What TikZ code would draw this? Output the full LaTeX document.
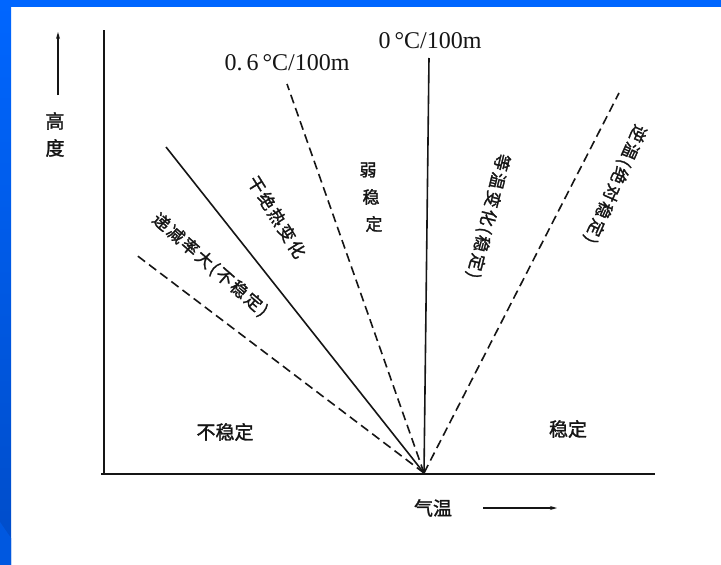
\documentclass[tikz,border=0pt]{standalone}
\usepackage{fontspec}
\setmainfont{Liberation Serif}
\newfontfamily\cjk[FakeBold=1.5]{Noto Sans CJK SC}
\newfontfamily\cjks[FakeBold=1.5,LetterSpace=12]{Noto Sans CJK SC}
\usetikzlibrary{arrows.meta}
\definecolor{frameblue}{HTML}{0066FF}
\definecolor{framedark}{HTML}{004CC8}
\definecolor{framemid}{HTML}{0058E0}
\definecolor{ink}{HTML}{151515}
\tikzset{
  axisline/.style={draw=ink, line width=1.8pt},
  fanline/.style={draw=ink, line width=1.6pt},
  fandash/.style={draw=ink, line width=1.6pt, dash pattern=on 9pt off 5pt},
  cn/.style={font=\cjk\fontsize{19}{19}\selectfont, text=ink, inner sep=0pt},
  cnrot/.style={font=\cjks\fontsize{17}{17}\selectfont, text=ink, inner sep=0pt},
  cnv/.style={font=\cjk\fontsize{17}{17}\selectfont, text=ink, inner sep=0pt},
  num/.style={font=\fontsize{24}{24}\selectfont, text=ink, inner sep=0pt},
  arr/.style={draw=ink, line width=1.4pt, -{Stealth[length=7pt,width=4pt]}}
}
\begin{document}
\begin{tikzpicture}[x=1pt,y=-1pt]
\useasboundingbox (0,0) rectangle (721,565);
% frame
\fill[white] (0,0) rectangle (721,565);
\fill[frameblue] (0,0) rectangle (721,7);
\shade[top color=frameblue, bottom color=framedark] (0,0) rectangle (11,565);
\fill[framemid] (0,522) -- (11,538) -- (11,565) -- (0,565) -- cycle;

% axes
\coordinate (ytop) at (104,30);
\coordinate (xorig) at (101,474);
\coordinate (xend) at (655,474);
\coordinate (ybot) at (104,474);
\draw[axisline] (ytop) -- (ybot);
\draw[axisline] (xorig) -- (xend);

% fan origin and tops
\coordinate (O) at (424,473);
\coordinate (t0) at (429,58);
\coordinate (t06) at (287,84);
\coordinate (tdry) at (166,147);
\coordinate (tsup) at (135,254);
\coordinate (tinv) at (619,93);

\draw[fanline] (O) -- (t0);
\draw[fandash] (O) -- (t06);
\draw[fanline] (O) -- (tdry);
\draw[fandash] (O) -- (tsup);
\draw[fandash] (O) -- (tinv);

% axis arrows
\coordinate (ha) at (58,95);
\coordinate (hb) at (58,32);
\draw[arr] (ha) -- (hb);
\coordinate (ta) at (483,508);
\coordinate (tb) at (557,508);
\draw[arr] (ta) -- (tb);

% axis labels
\node[cn] (gao) at (55,121) {高};
\node[cn] (du) at (55,148) {度};
\node[cn] (qiwen) at (433,508) {气温};

% lapse-rate labels
\node[num] (l06) at (287,63) {0.\,6\,°C/100m};
\node[num] (l0) at (430,41) {0\,°C/100m};

% region labels
\node[cn] (unst) at (225,432) {不稳定};
\node[cn] (st) at (568,429) {稳定};

% rotated labels
\node[cnrot, rotate=-41] (sup) at (210,265) {递减率大(不稳定)};
\node[cnrot, rotate=-58] (dry) at (277,217) {干绝热变化};
\node[cnv] (r1) at (368,170) {弱};
\node[cnv] (r2) at (371,197) {稳};
\node[cnv] (r3) at (374,224) {定};
\node[cnrot, rotate=-104] (iso) at (488,216) {等温变化(稳定)};
\node[cnrot, rotate=-114] (inv) at (615,184) {逆温(绝对稳定)};
\end{tikzpicture}
\end{document}
